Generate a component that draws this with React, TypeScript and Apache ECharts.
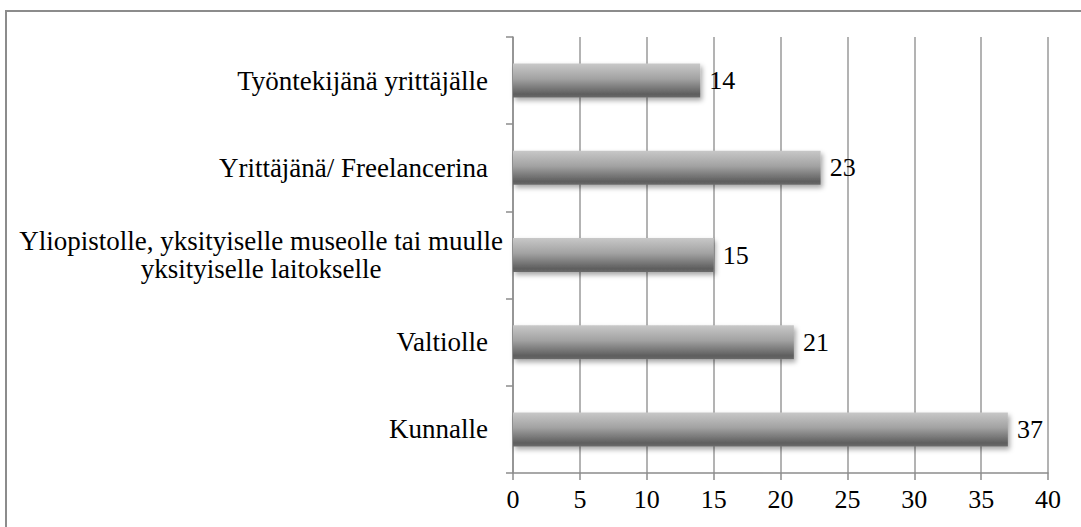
import React, { useEffect, useRef } from "react";
import * as echarts from "echarts";

const categories = [
  "Kunnalle",
  "Valtiolle",
  "Yliopistolle, yksityiselle museolle tai muulle\nyksityiselle laitokselle",
  "Yrittäjänä/ Freelancerina",
  "Työntekijänä yrittäjälle",
];
const values = [37, 21, 15, 23, 14];
const xMin = 0;
const xMax = 40;
const xStep = 5;

const FONT = "'Liberation Serif', 'Times New Roman', serif";

export default function App() {
  const ref = useRef<HTMLDivElement>(null);
  useEffect(() => {
    if (!ref.current) return;
    const chart = echarts.init(ref.current, undefined, { renderer: "svg" });
    const catFont = { fontFamily: FONT, fontSize: 27, color: "#000" };
    chart.setOption({
      animation: false,
      backgroundColor: "#ffffff",
      graphic: [
        {
          type: "rect",
          shape: { x: 6, y: 11, width: 1200, height: 700 },
          style: { fill: "none", stroke: "#8c8c8c", lineWidth: 2 },
          silent: true,
          z: -1,
        },
      ],
      grid: { left: 513, right: 33, top: 37, bottom: 54, containLabel: false },
      xAxis: {
        type: "value",
        min: xMin,
        max: xMax,
        interval: xStep,
        axisLine: { show: true, lineStyle: { color: "#8c8c8c", width: 1.5 } },
        axisTick: { show: true, length: 7, lineStyle: { color: "#8c8c8c", width: 1.5 } },
        splitLine: { show: true, lineStyle: { color: "#9a9a9a", width: 1.5 } },
        axisLabel: { color: "#000", fontFamily: FONT, fontSize: 26, margin: 13 },
      },
      yAxis: {
        type: "category",
        data: categories,
        axisLine: { show: true, lineStyle: { color: "#8c8c8c", width: 1.5 } },
        axisTick: { show: true, length: 7, lineStyle: { color: "#8c8c8c", width: 1.5 } },
        axisLabel: {
          ...catFont,
          margin: 10,
          align: "right",
          lineHeight: 28,
          formatter: (v: string) => {
            if (v.indexOf("\n") >= 0) {
              return v
                .split("\n")
                .map((s) => "{c|" + s + "}")
                .join("\n");
            }
            return "{n|" + v + "}";
          },
          rich: {
            c: { ...catFont, align: "center", lineHeight: 28 },
            n: { ...catFont, padding: [0, 15, 0, 0], lineHeight: 28 },
          },
        },
      },
      series: [
        {
          type: "bar",
          data: values,
          barWidth: 34,
          itemStyle: {
            color: new echarts.graphic.LinearGradient(0, 0, 0, 1, [
              { offset: 0, color: "#c8c8c8" },
              { offset: 0.45, color: "#a2a2a2" },
              { offset: 0.9, color: "#5e5e5e" },
              { offset: 1, color: "#6a6a6a" },
            ]),
            shadowColor: "rgba(0,0,0,0.35)",
            shadowBlur: 5,
            shadowOffsetX: 2,
            shadowOffsetY: 3,
          },
          label: {
            show: true,
            position: "right",
            distance: 9,
            color: "#000",
            fontFamily: FONT,
            fontSize: 26,
          },
        },
      ],
    });
    return () => chart.dispose();
  }, []);
  return (
    <div
      ref={ref}
      style={{ position: "fixed", left: 0, top: 0, width: 1081, height: 527 }}
    />
  );
}
